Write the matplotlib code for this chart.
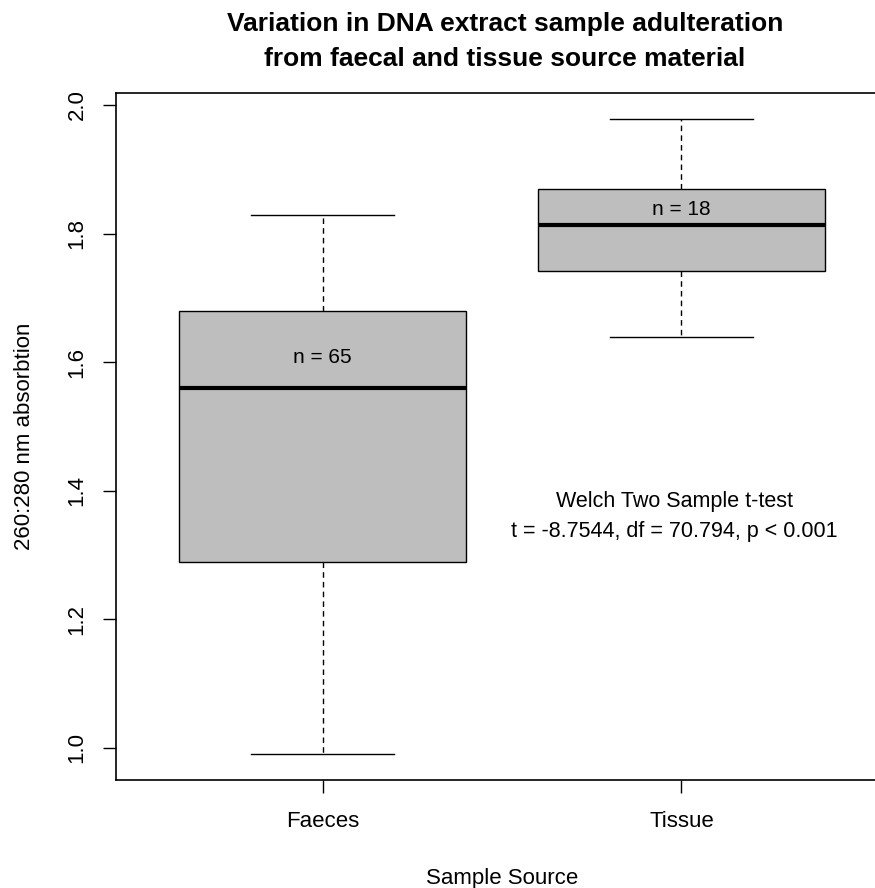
import matplotlib.pyplot as plt

plt.rcParams['font.family'] = ['Liberation Sans', 'DejaVu Sans']

# values
groups = ["Faeces", "Tissue"]
whisker_low = [0.991, 1.639]
q1 = [1.289, 1.742]
median = [1.560, 1.814]
q3 = [1.679, 1.869]
whisker_high = [1.829, 1.978]
n_counts = [65, 18]
n_label_y = [1.608, 1.838]

stats = []
for i, g in enumerate(groups):
    stats.append({
        'label': g,
        'whislo': whisker_low[i],
        'q1': q1[i],
        'med': median[i],
        'q3': q3[i],
        'whishi': whisker_high[i],
        'fliers': [],
    })

fig = plt.figure(figsize=(8.75, 8.88), dpi=100)
ax = fig.add_axes([116 / 875, 108 / 888, 772 / 875, 687 / 888])

ax.bxp(stats, positions=[1, 2], widths=0.8, patch_artist=True,
       boxprops=dict(facecolor='#bebebe', edgecolor='black', linewidth=1),
       medianprops=dict(color='black', linewidth=3),
       whiskerprops=dict(color='black', linestyle=(0, (4, 3)), linewidth=1),
       capprops=dict(color='black', linewidth=1),
       capwidths=0.4)

for i in range(len(groups)):
    ax.text(i + 1, n_label_y[i], "n = %d" % n_counts[i], ha='center', va='center',
            fontsize=15)

ax.text(1.98, 1.383, "Welch Two Sample t-test", ha='center', va='center', fontsize=15.5)
ax.text(1.98, 1.336, "t = -8.7544, df = 70.794, p < 0.001", ha='center', va='center',
        fontsize=15.5)

ax.set_xlim(0.4246, 2.5754)
ax.set_ylim(0.9502, 2.0187)
ax.set_yticks([1.0, 1.2, 1.4, 1.6, 1.8, 2.0])
ax.set_yticklabels(["1.0", "1.2", "1.4", "1.6", "1.8", "2.0"], rotation=90, va='center')
ax.set_xticks([1, 2])
ax.set_xticklabels(groups)
ax.tick_params(labelsize=16, length=9.5, width=1)
ax.tick_params(axis='x', pad=13)
ax.tick_params(axis='y', pad=11)
for s in ax.spines.values():
    s.set_linewidth(1.2)

ax.set_xlabel("Sample Source", fontsize=16, labelpad=26)
ax.set_ylabel("260:280 nm absorbtion", fontsize=16, labelpad=23)
fig.suptitle("Variation in DNA extract sample adulteration\nfrom faecal and tissue source material",
             x=0.577, y=0.986, fontsize=19, fontweight='bold', linespacing=1.55)

fig.savefig("out.png", dpi=100)
